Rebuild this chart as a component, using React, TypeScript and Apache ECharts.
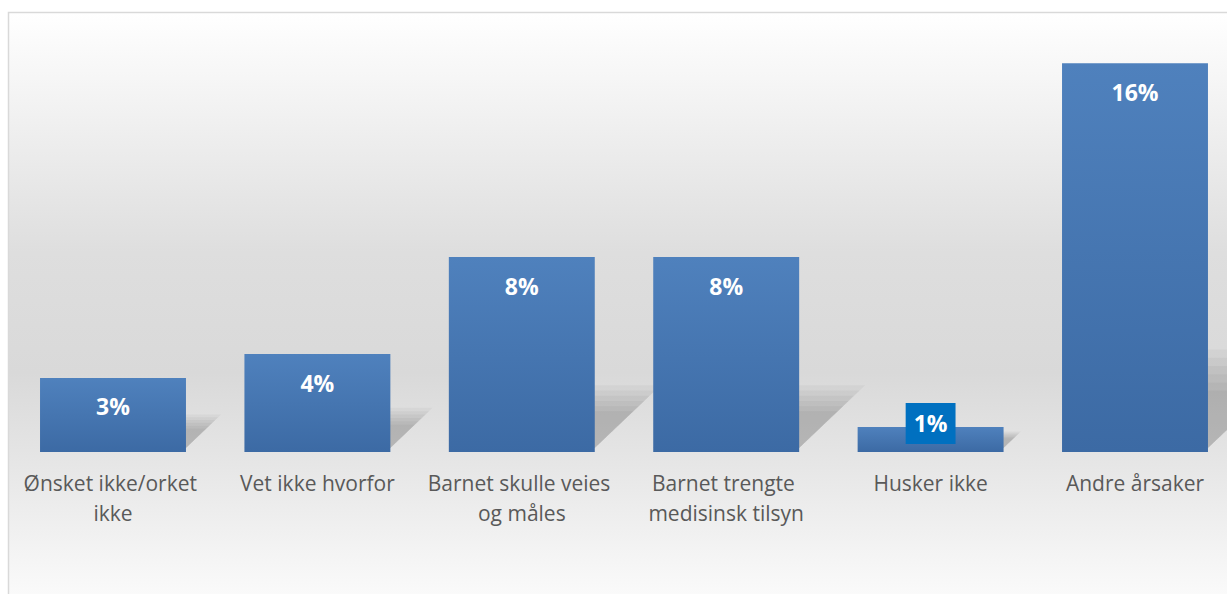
import React, { useEffect, useRef } from "react";
import * as echarts from "echarts";

const categories = [
  "Ønsket ikke/orket ikke",
  "Vet ikke hvorfor",
  "Barnet skulle veies og måles",
  "Barnet trengte medisinsk tilsyn",
  "Husker ikke",
  "Andre årsaker",
];
const values = [3.05, 4.03, 8.02, 8.02, 1.03, 16];
const highlightIndex = 4;

export default function App() {
  const ref = useRef<HTMLDivElement>(null);
  useEffect(() => {
    if (!ref.current) return;
    const chart = echarts.init(ref.current, undefined, { renderer: "svg" });
    const barRatio = 146 / 204.4;
    const layers = [0.7, 0.8, 0.9, 1.0, 1.1, 1.2];
    const option: any = {
      animation: false,
      graphic: [
        {
          type: "rect",
          z: -10,
          silent: true,
          shape: { x: 8.5, y: 12.5, width: 1300, height: 600 },
          style: {
            stroke: "#d9d9d9",
            lineWidth: 1.5,
            fill: new echarts.graphic.LinearGradient(0, 0, 0, 1, [
              { offset: 0, color: "#ffffff" },
              { offset: 0.4, color: "#dedede" },
              { offset: 0.6, color: "#d9d9d9" },
              { offset: 0.73, color: "#e4e4e4" },
              { offset: 0.97, color: "#fafafa" },
              { offset: 1, color: "#ffffff" },
            ]),
          },
        },
      ],
      grid: { left: 10.8, right: 22.8, top: 14.6, bottom: 168, containLabel: false },
      xAxis: {
        type: "category",
        data: categories,
        axisLine: { show: false },
        axisTick: { show: false },
        axisLabel: {
          interval: 0,
          margin: 16,
          color: "#595959",
          fontFamily: "Open Sans",
          fontSize: 21,
          lineHeight: 30,
          width: 190,
          overflow: "break",
        },
      },
      yAxis: { type: "value", min: 0, max: 18, show: false, splitLine: { show: false } },
      series: [
        {
          type: "custom",
          z: 1,
          clip: false,
          silent: true,
          data: values.map((v, i) => [i, v]),
          renderItem: (params: any, api: any) => {
            const idx = api.value(0);
            const val = api.value(1);
            const base = api.coord([idx, 0]);
            const top = api.coord([idx, val]);
            const bandW = api.size([1, 0])[0];
            const barW = bandW * barRatio;
            const x0 = base[0] - barW / 2;
            const x1 = base[0] + barW / 2;
            const h = base[1] - top[1];
            const rise = 1.7 * Math.pow(h, 0.65);
            const d = 1.05 * rise;
            const y = base[1] - 4;
            return {
              type: "group",
              children: layers.map((f) => ({
                type: "polygon",
                shape: {
                  points: [
                    [x0, y],
                    [x1, y],
                    [x1 + d * f, y - rise * f],
                    [x0 + d * f, y - rise * f],
                  ],
                },
                style: { fill: "rgba(0,0,0,0.035)" },
              })),
            };
          },
        },
        {
          type: "bar",
          z: 3,
          barCategoryGap: "28.6%",
          data: values.map((v, i) =>
            i === highlightIndex
              ? {
                  value: v,
                  label: {
                    position: "inside",
                    offset: [0, -16],
                    backgroundColor: "#0070c0",
                    padding: [8, 8],
                    lineHeight: 25,
                  },
                }
              : v
          ),
          itemStyle: {
            color: new echarts.graphic.LinearGradient(0, 0, 0, 1, [
              { offset: 0, color: "#4f81bd" },
              { offset: 1, color: "#3c6aa4" },
            ]),
          },
          label: {
            show: true,
            position: "insideTop",
            distance: 17,
            color: "#ffffff",
            fontFamily: "Open Sans",
            fontWeight: "bold",
            fontSize: 23,
            formatter: (p: any) => Math.round(p.value) + "%",
          },
        },
      ],
    };
    chart.setOption(option);
    return () => chart.dispose();
  }, []);
  return (
    <div
      style={{
        position: "fixed",
        left: 0,
        top: 0,
        width: 1227,
        height: 594,
        overflow: "hidden",
        background: "#ffffff",
      }}
    >
      <div ref={ref} style={{ width: 1260, height: 620 }} />
    </div>
  );
}
